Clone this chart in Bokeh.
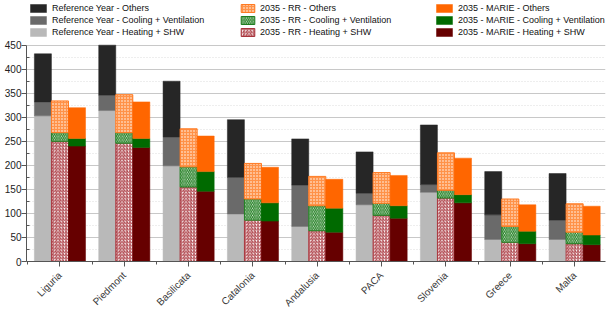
from math import pi

from bokeh.embed import file_html
from bokeh.models import ColumnDataSource, FixedTicker, Legend, LegendItem, Range1d
from bokeh.plotting import figure
from bokeh.resources import INLINE

# Final energy demand by region (kWh/m2 per year), split by end use
regions = ["Liguria", "Piedmont", "Basilicata", "Catalonia", "Andalusia",
           "PACA", "Slovenia", "Greece", "Malta"]

ref_heating = [303, 314, 199, 99, 73, 118, 144, 46, 46]
ref_cooling = [29, 32, 60, 76, 86, 24, 16, 51, 40]
ref_others = [100, 104, 116, 120, 96, 86, 124, 90, 97]

rr_heating = [250, 246, 155, 86, 64, 96, 132, 40, 37]
rr_cooling = [18, 22, 42, 44, 52, 25, 16, 33, 24]
rr_others = [66, 79, 79, 74, 61, 64, 78, 57, 59]

marie_heating = [240, 237, 146, 84, 61, 90, 122, 37, 35]
marie_cooling = [16, 19, 41, 38, 50, 26, 17, 26, 20]
marie_others = [64, 76, 74, 74, 60, 63, 76, 55, 60]

y_ticks = [0, 50, 100, 150, 200, 250, 300, 350, 400, 450]

FONT = "Liberation Sans"
BAR_W = 0.265

# The frame reaches the top of the canvas; the band above 450 holds the legend,
# while the axis and grid stop at 450.
Y_MAX = 450
PLOT_H = 218
LEGEND_BAND = 45
y_end = Y_MAX * (PLOT_H + LEGEND_BAND) / PLOT_H

p = figure(width=611, height=315, output_backend="svg", toolbar_location=None,
           x_range=Range1d(-0.52, 8.48), y_range=Range1d(0, y_end),
           min_border_left=26, min_border_right=6, min_border_top=0,
           min_border_bottom=52)
p.outline_line_color = None
p.background_fill_color = "white"

idx = list(range(len(regions)))


def stack_segments(offset, heating, cooling, others, styles):
    """Draw one stacked column per region at the given offset from the tick."""
    x = [i + offset for i in idx]
    h_top = list(heating)
    c_top = [h + c for h, c in zip(heating, cooling)]
    o_top = [c + o for c, o in zip(c_top, others)]
    bottoms = [[0] * len(idx), h_top, c_top]
    tops = [h_top, c_top, o_top]
    renderers = []
    for bottom, top, style in zip(bottoms, tops, styles):
        src = ColumnDataSource(dict(x=x, bottom=bottom, top=top))
        r = p.vbar(x="x", bottom="bottom", top="top", width=BAR_W, source=src, **style)
        renderers.append(r)
    return renderers


def solid(color):
    return dict(fill_color=color, line_color=color, line_width=0.5)


def hatched(color, pattern, scale, weight, fill="white"):
    return dict(fill_color=fill, line_color=color, line_width=1,
                hatch_pattern=pattern, hatch_color=color, hatch_scale=scale,
                hatch_weight=weight)


ref_r = stack_segments(-BAR_W, ref_heating, ref_cooling, ref_others,
                       [solid("#b9b9b9"), solid("#6a6a6a"), solid("#262626")])
rr_r = stack_segments(0.0, rr_heating, rr_cooling, rr_others,
                      [hatched("#a8343c", "right_diagonal_line", 3.2, 1.0),
                       hatched("#1f7d1f", "left_diagonal_line", 3.6, 1.2),
                       dict(fill_color="#ff9248", line_color="#ff7a22", line_width=1,
                            hatch_pattern="dot", hatch_color="white",
                            hatch_scale=3.0, hatch_weight=1.4)])
marie_r = stack_segments(BAR_W, marie_heating, marie_cooling, marie_others,
                         [solid("#660000"), solid("#006a00"), solid("#ff6600")])

# Axes
p.xaxis.ticker = FixedTicker(ticks=idx, minor_ticks=[i - 0.5 for i in range(len(regions) + 1)])
p.xaxis.major_label_overrides = {i: name for i, name in enumerate(regions)}
p.xaxis.major_label_orientation = pi / 4
p.xaxis.major_label_text_font = FONT
p.xaxis.major_label_text_font_size = "10px"
p.xaxis.major_label_text_color = "#3a3a3a"
p.xaxis.major_label_standoff = 7
p.xaxis.axis_line_color = "#555555"
p.xaxis.major_tick_line_color = "#555555"
p.xaxis.minor_tick_line_color = "#555555"
p.xaxis.major_tick_out = 5
p.xaxis.major_tick_in = 0
p.xaxis.minor_tick_out = 3
p.xaxis.minor_tick_in = 0

p.yaxis.bounds = (0, Y_MAX)
p.yaxis.ticker = FixedTicker(ticks=y_ticks, minor_ticks=[v + 25 for v in y_ticks[:-1]])
p.yaxis.major_label_text_font = FONT
p.yaxis.major_label_text_font_size = "10px"
p.yaxis.major_label_text_color = "#222222"
p.yaxis.major_label_standoff = 0
p.yaxis.axis_line_color = "#555555"
p.yaxis.major_tick_line_color = "#555555"
p.yaxis.minor_tick_line_color = "#555555"
p.yaxis.major_tick_out = 5
p.yaxis.major_tick_in = 0
p.yaxis.minor_tick_out = 0
p.yaxis.minor_tick_in = 3

p.xgrid.grid_line_color = None
p.ygrid.bounds = (0, Y_MAX)
p.ygrid.grid_line_color = "#c8c8c8"
p.ygrid.grid_line_width = 1
p.ygrid.minor_grid_line_color = "#dddddd"
p.ygrid.minor_grid_line_dash = "1 2"

# Legend: one column per scenario, in the band above the 450 line.
# Locations are each legend's bottom-left corner, in pixels from the frame's bottom-left.
columns = [
    (2, 20, [("Reference Year - Others", ref_r[2]),
             ("Reference Year - Cooling + Ventilation", ref_r[1]),
             ("Reference Year - Heating + SHW", ref_r[0])]),
    (213, 17, [("2035 - RR - Others", rr_r[2]),
               ("2035 - RR - Cooling + Ventilation", rr_r[1]),
               ("2035 - RR - Heating + SHW", rr_r[0])]),
    (408, 20, [("2035 - MARIE - Others", marie_r[2]),
               ("2035 - MARIE - Cooling + Ventilation", marie_r[1]),
               ("2035 - MARIE - Heating + SHW", marie_r[0])]),
]
for x0, gw, entries in columns:
    legend = Legend(items=[LegendItem(label=lab, renderers=[r]) for lab, r in entries],
                    orientation="vertical", location=(x0, 224),
                    border_line_color=None, background_fill_alpha=0,
                    padding=0, margin=0, spacing=1,
                    glyph_width=gw, glyph_height=10, label_height=11,
                    label_standoff=4, label_text_font=FONT,
                    label_text_font_size="9px", label_text_color="#111111")
    p.add_layout(legend, "center")

open("out.html", "w").write(file_html(p, INLINE))
